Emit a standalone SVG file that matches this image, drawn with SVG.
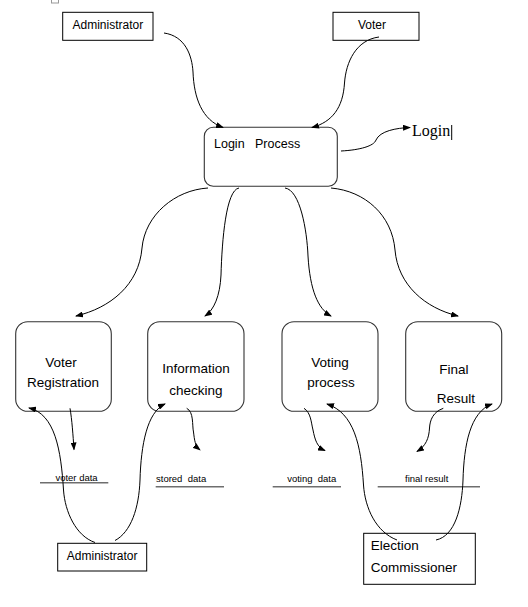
<svg xmlns="http://www.w3.org/2000/svg" width="528" height="607" viewBox="0 0 528 607">
<style>
.box{fill:#fff;stroke:#000;stroke-width:1}
.proc{fill:#fff;stroke:#333;stroke-width:1.1}
.t{font-family:"Liberation Sans",Arial,sans-serif;fill:#000}
.c{fill:none;stroke:#000;stroke-width:1}
.store{stroke:#6e6e6e;stroke-width:1.6}
</style>
<defs>
<marker id="ah" markerWidth="8" markerHeight="6" refX="7" refY="3" orient="auto" markerUnits="userSpaceOnUse">
<path d="M0,0 L8,3 L0,6 Z" fill="#000"/>
</marker>
</defs>
<rect x="51.5" y="-3" width="7" height="6" fill="#fff" stroke="#999" stroke-width="1"/>
<g id="admin-top">
<rect class="box" x="62.7" y="12.3" width="90.3" height="28"/>
<text class="t" x="107.8" y="29" font-size="12" text-anchor="middle">Administrator</text>
</g>
<g id="voter">
<rect class="box" x="333" y="12.3" width="86" height="28"/>
<text class="t" x="372" y="29" font-size="12" text-anchor="middle">Voter</text>
</g>
<g id="login-process">
<rect class="proc" x="204.3" y="127.3" width="133" height="59" rx="9"/>
<text class="t" x="214" y="147.7" font-size="12.5" style="white-space:pre">Login   Process</text>
</g>
<g id="login-label">
<text x="412" y="135.7" font-family="'Liberation Serif','Times New Roman',serif" font-size="16">Login</text>
<line x1="451.7" y1="125" x2="451.7" y2="140" stroke="#000" stroke-width="1"/>
</g>
<g id="voter-registration">
<rect class="proc" x="15.7" y="321.7" width="95.6" height="89.6" rx="12"/>
<text class="t" x="61" y="366.7" font-size="13.5" text-anchor="middle">Voter</text>
<text class="t" x="63" y="386.7" font-size="13.5" text-anchor="middle">Registration</text>
</g>
<g id="information-checking">
<rect class="proc" x="147.7" y="321.7" width="96.3" height="89.6" rx="12"/>
<text class="t" x="196" y="373" font-size="13.5" text-anchor="middle">Information</text>
<text class="t" x="196" y="395" font-size="13.5" text-anchor="middle">checking</text>
</g>
<g id="voting-process">
<rect class="proc" x="282" y="321.7" width="96" height="89.6" rx="12"/>
<text class="t" x="330" y="366.7" font-size="13.5" text-anchor="middle">Voting</text>
<text class="t" x="331" y="386.7" font-size="13.5" text-anchor="middle">process</text>
</g>
<g id="final-result">
<rect class="proc" x="405.7" y="321.7" width="96" height="89.6" rx="12"/>
<text class="t" x="454" y="374" font-size="13.5" text-anchor="middle">Final</text>
<text class="t" x="456" y="403.3" font-size="13.5" text-anchor="middle">Result</text>
</g>
<g id="store-voter-data">
<line class="store" x1="40" y1="482.7" x2="108.3" y2="482.7"/>
<text class="t" x="76.5" y="481" font-size="9.5" text-anchor="middle">voter data</text>
</g>
<g id="store-stored-data">
<line class="store" x1="155.7" y1="486.7" x2="224" y2="486.7"/>
<text class="t" x="156" y="481.5" font-size="9.5" style="white-space:pre">stored  data</text>
</g>
<g id="store-voting-data">
<line class="store" x1="272.7" y1="486.7" x2="341" y2="486.7"/>
<text class="t" x="311.7" y="481.5" font-size="9.5" text-anchor="middle" style="white-space:pre">voting  data</text>
</g>
<g id="store-final-result">
<line class="store" x1="377.7" y1="486.7" x2="480" y2="486.7"/>
<text class="t" x="426.7" y="481.5" font-size="9.5" text-anchor="middle">final result</text>
</g>
<g id="admin-bottom">
<rect class="box" x="57.7" y="543.3" width="89" height="27.7"/>
<text class="t" x="102.2" y="560" font-size="12" text-anchor="middle">Administrator</text>
</g>
<g id="election-commissioner">
<rect class="box" x="363.7" y="533.3" width="111.6" height="51"/>
<text class="t" x="370.7" y="550" font-size="13.5">Election</text>
<text class="t" x="370.7" y="571.7" font-size="13.5">Commissioner</text>
</g>
<g id="connectors">
<path class="c" marker-end="url(#ah)" d="M164,33 C185,36 192,55 193,72 C194,98 202,120 223,127.5"/>
<path class="c" marker-end="url(#ah)" d="M379,37 C356,40 346,62 344.5,83 C343,108 332,122 312,127.5"/>
<path class="c" marker-end="url(#ah)" d="M341,151 C360,150 374,146 376,140 C380,131 396,128 410,127.5"/>
<path class="c" marker-end="url(#ah)" d="M208,188 C175,190 145,215 142,248 C139,285 110,308 76,316"/>
<path class="c" marker-end="url(#ah)" d="M239,188 C226,190 222,240 221,275 C220,296 214,310 205,316"/>
<path class="c" marker-end="url(#ah)" d="M285,188 C300,190 307,230 308,256 C310,290 318,309 331,316"/>
<path class="c" marker-end="url(#ah)" d="M331,188 C365,191 392,215 395,250 C398,285 425,308 458,316"/>
<path class="c" marker-end="url(#ah)" d="M70,408.3 C72,420 73,435 74,449.5"/>
<path class="c" marker-end="url(#ah)" d="M186.7,408.3 C194,412 192,425 193.5,432 C194.5,440 195,446 200,450"/>
<path class="c" marker-end="url(#ah)" d="M304,408.3 C311,413 311,422 313,430 C315,440 317,447 325,450.5"/>
<path class="c" marker-end="url(#ah)" d="M443.3,408.3 C433,412 430,420 429.5,428 C429,438 426,446 417,451.5"/>
<path class="c" marker-end="url(#ah)" d="M95,542.5 C76,536 65,512 63.5,490 C61,450 55,414 29,408"/>
<path class="c" marker-end="url(#ah)" d="M115,540.5 C131,532 139,508 140,480 C141,445 147,412 165,404"/>
<path class="c" marker-end="url(#ah)" d="M397,540 C376,532 365,508 363.5,485 C361,445 354,413 327,404"/>
<path class="c" marker-end="url(#ah)" d="M436,540 C455,536 462,508 463,480 C464,445 470,412 492,404"/>
</g>
</svg>
